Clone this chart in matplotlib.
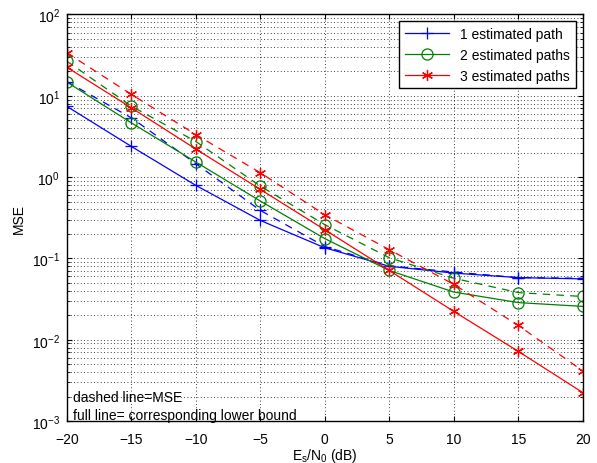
import matplotlib
matplotlib.use("Agg")
import matplotlib.pyplot as plt
import numpy as np

plt.rcParams["font.family"] = ["Liberation Sans", "DejaVu Sans"]

SNR_DB = [-20, -15, -10, -5, 0, 5, 10, 15, 20]

# lower bounds (full lines)
BOUND_1 = [7.4, 2.38, 0.79, 0.293, 0.135, 0.080, 0.066, 0.058, 0.056]
BOUND_2 = [14.7, 4.64, 1.53, 0.507, 0.175, 0.071, 0.0386, 0.0286, 0.0257]
BOUND_3 = [22.4, 7.1, 2.21, 0.705, 0.225, 0.071, 0.0223, 0.0072, 0.00224]

# MSE (dashed lines)
MSE_1 = [14.9, 5.35, 1.46, 0.389, 0.14, 0.081, 0.068, 0.058, 0.057]
MSE_2 = [26.6, 7.45, 2.74, 0.774, 0.26, 0.102, 0.057, 0.038, 0.034]
MSE_3 = [33.7, 10.4, 3.33, 1.13, 0.344, 0.128, 0.048, 0.015, 0.00414]

LABELS = ["1 estimated path", "2 estimated paths", "3 estimated paths"]
COLORS = ["#0000ff", "#008000", "#ff0000"]
MARKERS = ["+", "o", (6, 2, 0)]


def main():
    fig = plt.figure(figsize=(5.97, 4.64), dpi=100)
    ax = fig.add_axes([0.1122, 0.0905, 0.8638, 0.8761])

    bounds = [BOUND_1, BOUND_2, BOUND_3]
    mses = [MSE_1, MSE_2, MSE_3]
    for b, m, lab, c, mk in zip(bounds, mses, LABELS, COLORS, MARKERS):
        msz = 9 if mk == "+" else 8
        ax.semilogy(SNR_DB, b, color=c, marker=mk, markersize=msz, linewidth=0.9,
                    markerfacecolor="none", markeredgecolor=c, markeredgewidth=0.9, label=lab)
        ax.semilogy(SNR_DB, m, color=c, marker=mk, markersize=msz, linewidth=0.9,
                    linestyle=(0, (6, 5)), markerfacecolor="none", markeredgecolor=c,
                    markeredgewidth=0.9)

    ax.set_xlim(-20, 20)
    ax.set_ylim(1e-3, 1e2)
    ax.set_xticks(SNR_DB)
    ax.set_xticklabels(["\u221220", "\u221215", "\u221210", "\u22125", "0", "5", "10", "15", "20"])
    ax.grid(True, which="major", linestyle=(0, (1, 3)), color="black", linewidth=0.6)
    ax.grid(True, which="minor", axis="y", linestyle=(0, (1, 3)), color="black", linewidth=0.6)
    ax.tick_params(which="both", direction="in", top=True, right=True, labelsize=10)
    ax.tick_params(axis="x", pad=8)
    ax.tick_params(axis="y", pad=5)
    for s in ax.spines.values():
        s.set_linewidth(1.0)

    ax.set_xlabel("E$_\\mathregular{s}$/N$_\\mathregular{0}$ (dB)", fontsize=10, labelpad=0)
    ax.set_ylabel("MSE", fontsize=10, labelpad=4)

    leg = ax.legend(loc="upper right", fontsize=10, fancybox=False, framealpha=1,
                    edgecolor="black", borderaxespad=0.5, handlelength=3.2)
    leg.get_frame().set_linewidth(1.0)

    ax.text(0.012, 0.058, "dashed line=MSE", transform=ax.transAxes, fontsize=10,
            va="center", ha="left")
    ax.text(0.012, 0.015, "full line= corresponding lower bound", transform=ax.transAxes,
            fontsize=10, va="center", ha="left")

    fig.savefig("out.png", dpi=100)


if __name__ == "__main__":
    main()
